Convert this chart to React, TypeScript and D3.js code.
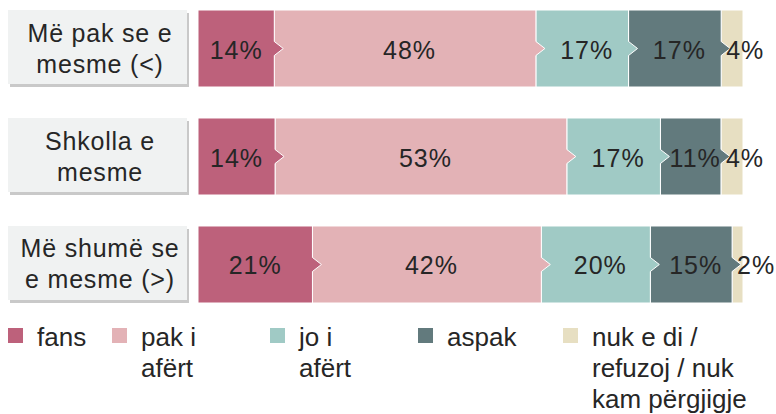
import React, { useRef, useEffect } from "react";
import * as d3 from "d3";

const categories = ["Më pak se e mesme (<)", "Shkolla e mesme", "Më shumë se e mesme (>)"];
const categoryLines = [
  ["Më pak se e", "mesme (<)"],
  ["Shkolla e", "mesme"],
  ["Më shumë se", "e mesme (>)"],
];
const seriesNames = ["fans", "pak i afërt", "jo i afërt", "aspak", "nuk e di / refuzoj / nuk kam përgjigje"];
const legendLines = [["fans"], ["pak i", "afërt"], ["jo i", "afërt"], ["aspak"], ["nuk e di /", "refuzoj / nuk", "kam përgjigje"]];
const colors = ["#bd617b", "#e3b2b6", "#a0cac5", "#627a7d", "#e7dfc2"];

// percentages per category, in series order
const values = [
  [14, 48, 17, 17, 4],
  [14, 53, 17, 11, 4],
  [21, 42, 20, 15, 2],
];

const W = 776;
const H = 414;
const FONT = "'Liberation Sans', Arial, sans-serif";
const TEXT = "#262626";

const App: React.FC = () => {
  const svgRef = useRef<SVGSVGElement>(null);

  useEffect(() => {
    document.body.style.margin = "0";
    if (!svgRef.current) return;
    const svg = d3.select(svgRef.current);
    svg.selectAll("*").remove();

    const y = d3.scaleBand<string>().domain(categories).range([10, 303]).paddingInner(0.287);
    const bw = y.bandwidth();
    const arrowW = 9;
    const arrowH = 7;

    categories.forEach((cat, ci) => {
      const top = y(cat)!;
      const cy = top + bw / 2;

      // label box with shadow
      const g = svg.append("g");
      g.append("rect")
        .attr("x", 10)
        .attr("y", top + 3)
        .attr("width", 179)
        .attr("height", bw - 3)
        .attr("fill", "#c9c9c9");
      g.append("rect")
        .attr("x", 8)
        .attr("y", top)
        .attr("width", 179)
        .attr("height", bw - 3)
        .attr("fill", "#f0f2f2");
      categoryLines[ci].forEach((ln, li) => {
        g.append("text")
          .attr("x", 100)
          .attr("y", cy - 7 + li * 31)
          .attr("text-anchor", "middle")
          .attr("font-family", FONT)
          .attr("font-size", 25)
          .attr("letter-spacing", 0.8)
          .attr("fill", TEXT)
          .text(ln);
      });

      const row = values[ci];
      const total = d3.sum(row);
      const x = d3.scaleLinear().domain([0, total]).range([198, 743]);
      const starts = row.map((_, i) => d3.sum(row.slice(0, i)));

      // draw right to left so each arrow sits over the next segment
      for (let i = row.length - 1; i >= 0; i--) {
        const x0 = x(starts[i]);
        const x1 = x(starts[i] + row[i]);
        const last = i === row.length - 1;
        const pts: [number, number][] = last
          ? [[x0, top], [x1, top], [x1, top + bw], [x0, top + bw]]
          : [
              [x0, top],
              [x1, top],
              [x1, cy - arrowH],
              [x1 + arrowW, cy],
              [x1, cy + arrowH],
              [x1, top + bw],
              [x0, top + bw],
            ];
        svg.append("polygon")
          .attr("points", pts.map((p) => p.join(",")).join(" "))
          .attr("fill", colors[i])
          .attr("stroke", "#ffffff")
          .attr("stroke-width", 1);
      }

      row.forEach((v, i) => {
        const x0 = x(starts[i]);
        const x1 = x(starts[i] + v);
        const narrow = x1 - x0 < 30;
        const cx = i === 0 ? (x0 + x1) / 2 : (x0 + arrowW + x1) / 2;
        svg.append("text")
          .attr("x", narrow ? x0 + 5 : cx)
          .attr("y", cy + 10)
          .attr("text-anchor", narrow ? "start" : "middle")
          .attr("font-family", FONT)
          .attr("font-size", 25)
          .attr("letter-spacing", 1)
          .attr("fill", TEXT)
          .text(`${v}%`);
      });
    });

    // legend
    const legendX = [8, 112, 270, 418, 563];
    seriesNames.forEach((name, i) => {
      const g = svg.append("g").attr("transform", `translate(${legendX[i]},0)`);
      g.append("rect")
        .attr("x", 0)
        .attr("y", 328)
        .attr("width", 15)
        .attr("height", 15)
        .attr("fill", colors[i]);
      legendLines[i].forEach((ln, li) => {
        g.append("text")
          .attr("x", 29)
          .attr("y", 346 + li * 31)
          .attr("font-family", FONT)
          .attr("font-size", 26)
          .attr("fill", TEXT)
          .text(ln);
      });
    });
  }, []);

  return <svg ref={svgRef} width={W} height={H} style={{ display: "block", background: "#fff" }} />;
};

export default App;
